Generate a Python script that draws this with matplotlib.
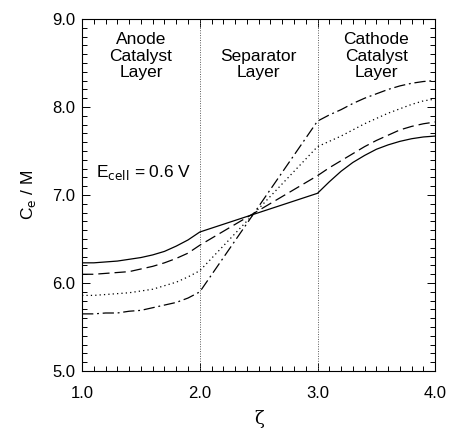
import matplotlib
matplotlib.use("Agg")
import matplotlib.pyplot as plt
from matplotlib.ticker import MultipleLocator, FormatStrFormatter

plt.rcParams['font.family'] = ['Liberation Sans', 'DejaVu Sans']

# dimensionless position across the cell
zeta = [1.0, 1.1, 1.2, 1.3, 1.4, 1.5, 1.6, 1.7, 1.8, 1.9, 2.0,
        3.0, 3.1, 3.2, 3.3, 3.4, 3.5, 3.6, 3.7, 3.8, 3.9, 4.0]

# electrolyte concentration (M), four cases
ce_solid = [6.23, 6.23, 6.24, 6.25, 6.27, 6.29, 6.32, 6.36, 6.42, 6.49, 6.58,
            7.02, 7.15, 7.27, 7.37, 7.45, 7.52, 7.57, 7.61, 7.64, 7.66, 7.67]
ce_dashed = [6.10, 6.10, 6.11, 6.12, 6.13, 6.16, 6.19, 6.23, 6.28, 6.34, 6.43,
             7.22, 7.31, 7.39, 7.47, 7.55, 7.62, 7.68, 7.74, 7.78, 7.81, 7.83]
ce_dotted = [5.86, 5.86, 5.87, 5.88, 5.89, 5.91, 5.93, 5.97, 6.01, 6.07, 6.14,
             7.55, 7.61, 7.67, 7.74, 7.81, 7.87, 7.93, 7.98, 8.03, 8.07, 8.09]
ce_dashdot = [5.65, 5.65, 5.66, 5.66, 5.68, 5.69, 5.72, 5.75, 5.78, 5.83, 5.90,
              7.84, 7.91, 7.97, 8.04, 8.10, 8.15, 8.20, 8.24, 8.27, 8.29, 8.30]

region_labels = ['Anode\nCatalyst\nLayer', 'Separator\nLayer', 'Cathode\nCatalyst\nLayer']

fig = plt.figure(figsize=(4.51, 4.32), dpi=100)
ax = fig.add_axes([0.182, 0.141, 0.783, 0.815])

# region boundaries
ax.axvline(2.0, color='0.35', linestyle=(0, (1, 1.5)), linewidth=0.7)
ax.axvline(3.0, color='0.35', linestyle=(0, (1, 1.5)), linewidth=0.7)

lw = 0.9
ax.plot(zeta, ce_solid, color='black', linestyle='-', linewidth=lw)
ax.plot(zeta, ce_dashed, color='black', linestyle=(0, (9, 4)), linewidth=lw)
ax.plot(zeta, ce_dotted, color='black', linestyle=(0, (1, 2.5)), linewidth=lw)
ax.plot(zeta, ce_dashdot, color='black', linestyle=(0, (9, 3, 1.5, 3)), linewidth=lw)

ax.set_xlim(1.0, 4.0)
ax.set_ylim(5.0, 9.0)
ax.xaxis.set_major_locator(MultipleLocator(1.0))
ax.xaxis.set_minor_locator(MultipleLocator(0.1))
ax.yaxis.set_major_locator(MultipleLocator(1.0))
ax.yaxis.set_minor_locator(MultipleLocator(0.1))
ax.xaxis.set_major_formatter(FormatStrFormatter('%.1f'))
ax.yaxis.set_major_formatter(FormatStrFormatter('%.1f'))

ax.tick_params(which='both', direction='in', top=True, right=True, width=0.7)
ax.tick_params(which='major', length=6)
ax.tick_params(which='minor', length=3.5)
ax.tick_params(axis='x', which='major', labelsize=12, pad=11)
ax.tick_params(axis='y', which='major', labelsize=12, pad=5)
for s in ax.spines.values():
    s.set_linewidth(0.8)

ax.text(1.5, 8.85, region_labels[0], ha='center', va='top', fontsize=12.5, linespacing=1.12)
ax.text(2.5, 8.66, region_labels[1], ha='center', va='top', fontsize=12.5, linespacing=1.12)
ax.text(3.5, 8.85, region_labels[2], ha='center', va='top', fontsize=12.5, linespacing=1.12)
ax.text(1.12, 7.26, r'E$_{\mathrm{cell}}$ = 0.6 V', ha='left', va='center', fontsize=12.5)

ax.set_ylabel(r'C$_{\mathrm{e}}$ / M', fontsize=12.5, labelpad=10)
ax.set_xlabel('ζ', fontsize=13, family='DejaVu Serif', labelpad=6)

fig.savefig('out.png', dpi=100)
